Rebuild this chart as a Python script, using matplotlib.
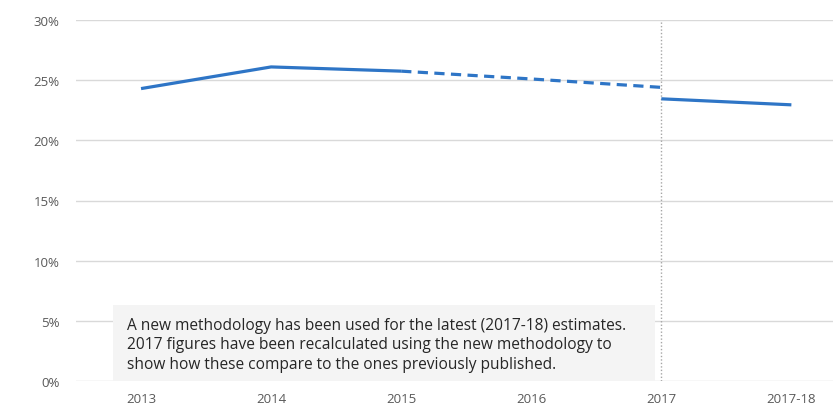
import matplotlib
matplotlib.use("Agg")
import matplotlib.pyplot as plt
from matplotlib.patches import Rectangle
from matplotlib.ticker import PercentFormatter

# Categories and series
categories = ["2013", "2014", "2015", "2016", "2017", "2017-18"]
old_solid = [24.3, 26.1, 25.75]            # 2013-2015, previous methodology
old_dashed = [25.75, 25.1, 24.4]           # 2015-2017, previous methodology (projected)
new_method = [23.45, 22.95]                # 2017, 2017-18, new methodology
yticks = [0, 5, 10, 15, 20, 25, 30]
note = ("A new methodology has been used for the latest (2017-18) estimates.\n"
        "2017 figures have been recalculated using the new methodology to\n"
        "show how these compare to the ones previously published.")

blue = "#2e75c6"
grid = "#d9d9d9"
tick_col = "#595959"

plt.rcParams["font.family"] = ["Open Sans", "DejaVu Sans"]

fig = plt.figure(figsize=(8.33, 4.10), dpi=100)
ax = fig.add_axes([76 / 833, 1 - 382 / 410, 1 - 76 / 833, (382 - 21) / 410])

x = list(range(len(categories)))
ax.plot(x[0:3], old_solid, color=blue, lw=2.3, solid_capstyle="butt", zorder=3)
ax.plot(x[2:5], old_dashed, color=blue, lw=2.3, dashes=(3.2, 2.0), zorder=3)
ax.plot(x[4:6], new_method, color=blue, lw=2.3, solid_capstyle="butt", zorder=3)

# Break between methodologies
ax.axvline(x[4], color="#a6a6a6", lw=1.0, ls=(0, (1, 1.5)), zorder=2)

ax.set_xlim(-0.5, 5.32)
ax.set_ylim(0, 30)
ax.set_yticks(yticks)
ax.yaxis.set_major_formatter(PercentFormatter(decimals=0))
ax.set_xticks(x)
ax.set_xticklabels(categories)
ax.tick_params(axis="both", length=0, labelsize=9.5, labelcolor=tick_col)
ax.tick_params(axis="y", pad=12)
ax.tick_params(axis="x", pad=8)
ax.grid(axis="y", color=grid, lw=1.0, zorder=0)
ax.set_axisbelow(True)
for s in ax.spines.values():
    s.set_visible(False)

# Note box
ax.add_patch(Rectangle((-0.215, 0.0), 4.17, 6.3, facecolor="#f4f4f4",
                       edgecolor="none", zorder=1))
ax.text(-0.11, 5.35, note, fontsize=11.2, color="#262626", va="top", ha="left",
        linespacing=1.3, zorder=4)

fig.savefig("out.png", dpi=100)
